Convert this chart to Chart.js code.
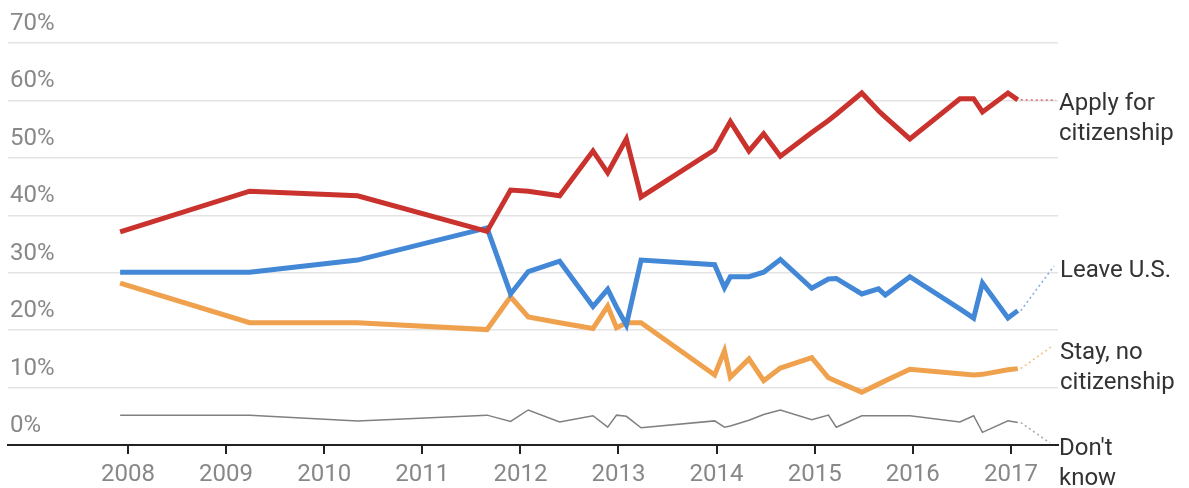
<!DOCTYPE html>
<html>
<head>
<meta charset="utf-8">
<script src="https://cdn.jsdelivr.net/npm/chart.js@4.4.1/dist/chart.umd.min.js"></script>
<style>
  html, body { margin: 0; padding: 0; background: #fff; }
  #chart { display: block; }
</style>
</head>
<body>
<canvas id="chart" width="1189" height="488"></canvas>
<script>
// survey dates as fractional years
const surveyDates = [2007.92, 2009.24, 2010.34, 2011.66, 2011.90, 2012.08, 2012.40, 2012.74, 2012.89, 2012.98,
  2013.08, 2013.23, 2013.98, 2014.08, 2014.14, 2014.33, 2014.48, 2014.65, 2014.97, 2015.14,
  2015.22, 2015.48, 2015.65, 2015.72, 2015.97, 2016.48, 2016.62, 2016.71, 2016.97, 2017.07];

const applyCitizenship = [37.1, 44.2, 43.4, 37.2, 44.4, 44.2, 43.4, 51.2, 47.4, 50.2,
  53.3, 43.2, 51.4, 54.5, 56.3, 51.2, 54.2, 50.3, 54.4, 56.5,
  57.6, 61.3, 58.2, 57.1, 53.3, 60.3, 60.3, 58.0, 61.3, 60.1];

const leaveUS = [30.1, 30.1, 32.2, 37.8, 26.3, 30.2, 32.0, 24.1, 27.1, 24.0,
  20.9, 32.2, 31.4, 27.4, 29.3, 29.3, 30.1, 32.3, 27.3, 28.9,
  29.0, 26.3, 27.2, 26.1, 29.3, 23.7, 22.1, 28.2, 22.1, 23.4];

const stayNoCitizenship = [28.2, 21.3, 21.3, 20.1, 25.8, 22.3, 21.3, 20.3, 24.2, 20.4,
  21.3, 21.3, 12.2, 16.4, 11.8, 15.0, 11.2, 13.4, 15.2, 11.7,
  11.1, 9.2, 10.6, 11.2, 13.2, 12.4, 12.2, 12.3, 13.1, 13.3];

const dontKnow = [5.2, 5.2, 4.2, 5.2, 4.1, 6.1, 4.0, 5.1, 3.1, 5.2,
  5.0, 3.0, 4.2, 3.1, 3.3, 4.3, 5.3, 6.1, 4.4, 5.2,
  3.1, 5.1, 5.1, 5.1, 5.1, 4.0, 5.1, 2.2, 4.2, 3.9];

const yearTicks = [2008, 2009, 2010, 2011, 2012, 2013, 2014, 2015, 2016, 2017];
const percentTicks = [0, 10, 20, 30, 40, 50, 60, 70];

const seriesNames = [['Apply for', 'citizenship'], ['Leave U.S.'], ['Stay, no', 'citizenship'], ["Don't", 'know']];

// where the end labels sit, and where their dotted leader lines stop
const labelSpots = [
  { x: 1059, y: 104, lead: [1056, 100] },
  { x: 1060, y: 271, lead: [1054, 266] },
  { x: 1060, y: 353, lead: [1051, 347] },
  { x: 1059, y: 449, lead: [1050, 443] }
];

const toPoints = vals => vals.map((v, i) => ({ x: surveyDates[i], y: v }));

const endLabels = {
  id: 'endLabels',
  afterDatasetsDraw(chart) {
    const c = chart.ctx;
    chart.data.datasets.forEach((ds, i) => {
      const pts = chart.getDatasetMeta(i).data;
      const last = pts[pts.length - 1];
      const spot = labelSpots[i];
      c.save();
      c.strokeStyle = ds.borderColor;
      c.globalAlpha = 0.7;
      c.lineWidth = 1.5;
      c.setLineDash([2, 3]);
      c.beginPath();
      c.moveTo(last.x + 3, last.y);
      c.lineTo(spot.lead[0], spot.lead[1]);
      c.stroke();
      c.restore();

      c.save();
      c.fillStyle = '#333';
      c.font = '24px Roboto';
      c.textBaseline = 'middle';
      seriesNames[i].forEach((t, k) => c.fillText(t, spot.x, spot.y + k * 30));
      c.restore();
    });
  }
};

const ctx = document.getElementById('chart').getContext('2d');
new Chart(ctx, {
  type: 'line',
  data: {
    datasets: [
      { label: 'Apply for citizenship', data: toPoints(applyCitizenship), borderColor: '#ca322d', borderWidth: 5 },
      { label: 'Leave U.S.', data: toPoints(leaveUS), borderColor: '#4388d7', borderWidth: 5 },
      { label: 'Stay, no citizenship', data: toPoints(stayNoCitizenship), borderColor: '#efa14d', borderWidth: 5 },
      { label: "Don't know", data: toPoints(dontKnow), borderColor: '#808080', borderWidth: 1.5 }
    ]
  },
  options: {
    responsive: false,
    animation: false,
    layout: { padding: { left: 8, right: 131, top: 43, bottom: 0 } },
    elements: {
      point: { radius: 0 },
      line: { tension: 0, fill: false, borderJoinStyle: 'miter' }
    },
    plugins: {
      legend: { display: false },
      tooltip: { enabled: false }
    },
    scales: {
      x: {
        type: 'linear',
        min: 2006.777,
        max: 2017.48,
        afterBuildTicks: s => { s.ticks = yearTicks.map(v => ({ value: v })); },
        afterFit: s => { s.height = 43; },
        grid: { drawOnChartArea: false, drawTicks: true, tickLength: 9, color: '#222', lineWidth: 2 },
        border: { display: true, color: '#222', width: 2 },
        ticks: {
          color: '#888',
          font: { family: 'Roboto', size: 24 },
          padding: 7,
          maxRotation: 0,
          autoSkip: false,
          callback: v => String(v)
        }
      },
      y: {
        min: 0,
        max: 70,
        afterBuildTicks: s => { s.ticks = percentTicks.map(v => ({ value: v })); },
        afterFit: s => { s.width = 0; },
        grid: {
          drawTicks: false,
          lineWidth: 1.5,
          color: c => (c.tick && c.tick.value === 0) ? 'rgba(0,0,0,0)' : '#e3e3e3'
        },
        border: { display: false },
        ticks: {
          mirror: true,
          padding: 2,
          labelOffset: -19,
          color: '#888',
          font: { family: 'Roboto', size: 24 },
          callback: v => v + '%'
        }
      }
    }
  },
  plugins: [endLabels]
});
</script>
</body>
</html>
